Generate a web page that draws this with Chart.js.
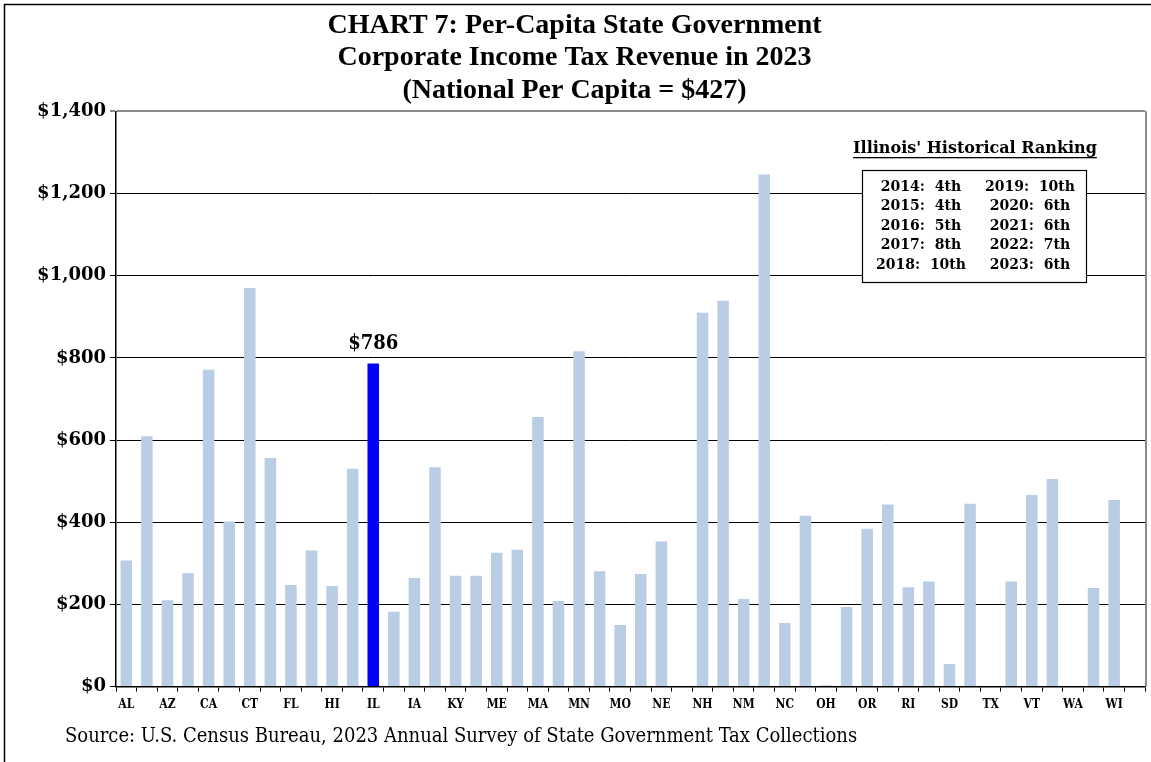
<!DOCTYPE html>
<html>
<head>
<meta charset="utf-8">
<script src="https://cdn.jsdelivr.net/npm/chart.js@4.4.1/dist/chart.umd.min.js"></script>
<style>
  html, body { margin: 0; padding: 0; background: #fff; }
  #wrap { position: relative; width: 1151px; height: 762px; }
</style>
</head>
<body>
<div id="wrap"><canvas id="chartCanvas"></canvas></div>
<script>
/* ─── Data ─── */
const states = [
  'AL','AK','AZ','AR','CA','CO','CT','DE','FL','GA',
  'HI','ID','IL','IN','IA','KS','KY','LA','ME','MD',
  'MA','MI','MN','MS','MO','MT','NE','NV','NH','NJ',
  'NM','NY','NC','ND','OH','OK','OR','PA','RI','SC',
  'SD','TN','TX','UT','VT','VA','WA','WV','WI','WY'
];
const perCapita = [
  307, 609, 210, 276, 771, 402, 970, 556, 247, 331,
  245, 530, 786, 182, 264, 534, 270, 270, 326, 333,
  656, 208, 816, 281, 150, 274, 353, 0, 910, 939,
  213, 1246, 155, 416, 3, 194, 384, 443, 242, 256,
  55, 445, 0, 256, 466, 505, 0, 240, 454, 0
];
const yTicks = [0, 200, 400, 600, 800, 1000, 1200, 1400];
const highlightState = 'IL';

const rankLeft  = ['2014:  4th', '2015:  4th', '2016:  5th', '2017:  8th', '2018:  10th'];
const rankRight = ['2019:  10th', '2020:  6th', '2021:  6th', '2022:  7th', '2023:  6th'];

const titleLines = [
  'CHART 7: Per-Capita State Government',
  'Corporate Income Tax Revenue in 2023',
  '(National Per Capita = $427)'
];
const sourceText = 'Source: U.S. Census Bureau, 2023 Annual Survey of State Government Tax Collections';

const LIGHT = '#B9CDE5';
const BLUE  = '#0000FF';
const SERIF = "'DejaVu Serif', serif";
const SERIF_COND = "'DejaVu Serif Condensed', 'DejaVu Serif', serif";
const TITLE_FONT = "'Liberation Serif', serif";

/* ─── Extras: frame, data label, ranking box, source ─── */
const extras = {
  id: 'extras',
  afterDraw(chart) {
    const ctx = chart.ctx;
    const area = chart.chartArea;
    ctx.save();

    // outer frame
    ctx.strokeStyle = '#000';
    ctx.lineWidth = 1.5;
    ctx.strokeRect(4.5, 4.5, chart.width + 10, chart.height + 10);

    // right plot border
    ctx.strokeStyle = '#8c8c8c';
    ctx.lineWidth = 2;
    ctx.beginPath();
    ctx.moveTo(area.right + 1, area.top);
    ctx.lineTo(area.right + 1, area.bottom);
    ctx.stroke();

    // value label on highlighted bar
    const idx = states.indexOf(highlightState);
    const bar = chart.getDatasetMeta(0).data[idx];
    ctx.fillStyle = '#000';
    ctx.font = `bold 20px ${SERIF_COND}`;
    ctx.textAlign = 'center';
    ctx.textBaseline = 'bottom';
    ctx.fillText('$' + perCapita[idx], bar.x, bar.y - 10);

    // ranking header
    const cx = 975;
    ctx.font = `bold 16px ${SERIF}`;
    ctx.textBaseline = 'middle';
    const head = "Illinois' Historical Ranking";
    ctx.fillText(head, cx, 149);
    const hw = ctx.measureText(head).width;
    ctx.fillRect(cx - hw / 2, 157, hw, 1.3);

    // ranking box
    ctx.fillStyle = '#fff';
    ctx.fillRect(862, 170, 224, 112);
    ctx.strokeStyle = '#000';
    ctx.lineWidth = 1.2;
    ctx.strokeRect(862.5, 170.5, 224, 112);
    ctx.fillStyle = '#000';
    ctx.font = `bold 14px ${SERIF}`;
    rankLeft.forEach((t, i) => ctx.fillText(t, 921, 187 + i * 19.5));
    rankRight.forEach((t, i) => ctx.fillText(t, 1030, 187 + i * 19.5));

    // source
    ctx.font = `20px ${SERIF_COND}`;
    ctx.textAlign = 'left';
    ctx.fillText(sourceText, 65, 737);

    ctx.restore();
  }
};

const ctx = document.getElementById('chartCanvas').getContext('2d');
new Chart(ctx, {
  type: 'bar',
  data: {
    labels: states,
    datasets: [{
      data: perCapita,
      backgroundColor: states.map(s => s === highlightState ? BLUE : LIGHT),
      borderWidth: 0,
      barPercentage: 0.56,
      categoryPercentage: 1
    }]
  },
  options: {
    responsive: true,
    maintainAspectRatio: false,
    animation: false,
    layout: { padding: { left: 4, right: 6, top: 3, bottom: 44 } },
    plugins: {
      legend: { display: false },
      tooltip: { enabled: false },
      title: {
        display: true,
        text: titleLines,
        color: '#000',
        font: { family: TITLE_FONT, size: 28, weight: 'bold', lineHeight: 1.17 },
        padding: { top: 6, bottom: 4 }
      }
    },
    scales: {
      x: {
        grid: { display: true, drawOnChartArea: false, color: '#000', tickLength: 5, offset: true },
        border: { color: '#000', width: 1.5 },
        ticks: {
          autoSkip: false,
          maxRotation: 0,
          color: '#000',
          padding: 6,
          font: { family: SERIF_COND, size: 12, weight: 'bold' },
          callback: (v, i) => (i % 2 === 0 ? states[i] : '')
        }
      },
      y: {
        min: 0,
        max: 1400,
        afterBuildTicks: scale => { scale.ticks = yTicks.map(v => ({ value: v })); },
        afterFit: scale => { scale.width = 112; },
        grid: {
          color: c => (c.tick && c.tick.value === 1400 ? '#8c8c8c' : '#000'),
          lineWidth: c => (c.tick && c.tick.value === 1400 ? 2 : 1),
          tickLength: 6
        },
        border: { color: '#000', width: 1.5 },
        ticks: {
          color: '#000',
          padding: 4,
          font: { family: SERIF, size: 18, weight: 'bold' },
          callback: v => '$' + v.toLocaleString('en-US')
        }
      }
    }
  },
  plugins: [extras]
});
</script>
</body>
</html>
